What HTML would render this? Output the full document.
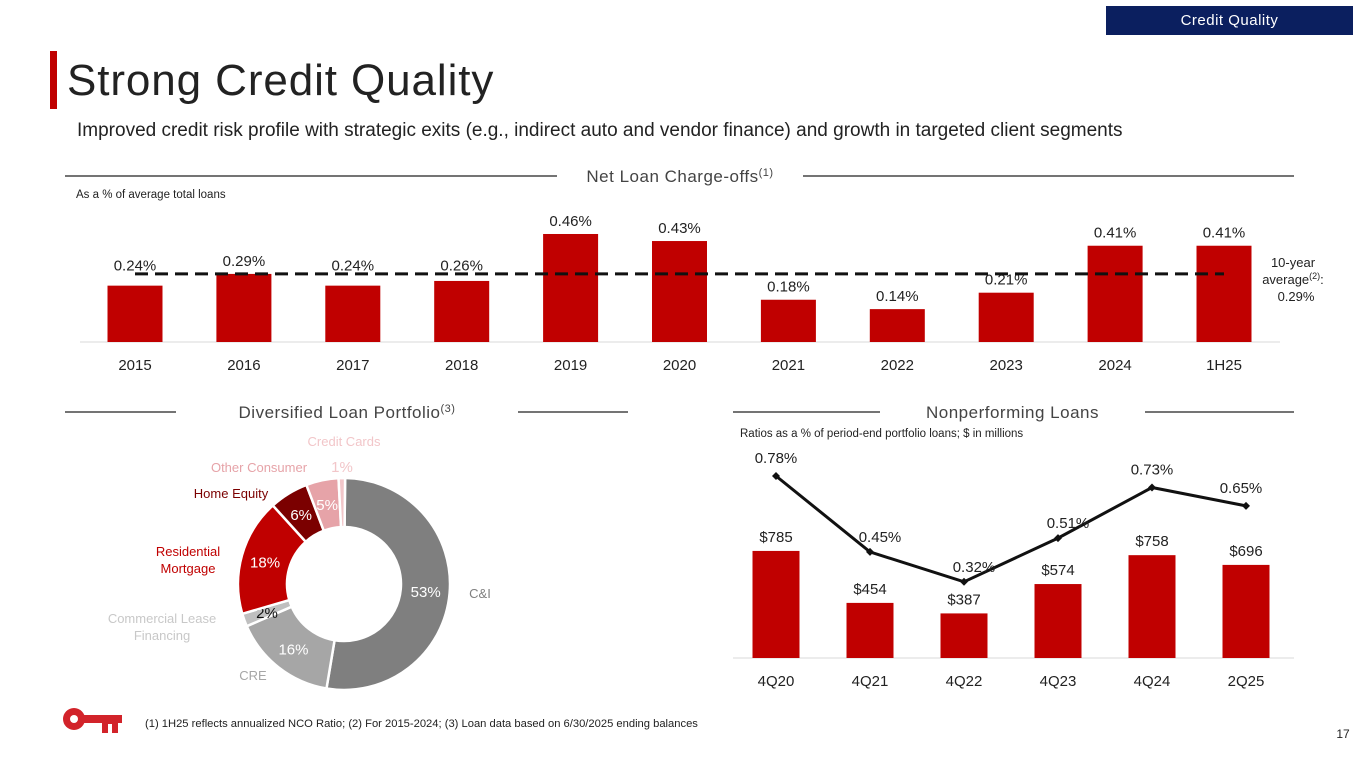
<!DOCTYPE html>
<html><head><meta charset="utf-8">
<style>
body{margin:0;width:1365px;height:768px;background:#fff;overflow:hidden;font-family:"Liberation Sans",sans-serif;position:relative}
.abs{position:absolute}
</style></head><body>
<div class="abs" style="left:1106px;top:6px;width:247px;height:29px;background:#0b1f5f;color:#fff;font-size:15px;line-height:29px;text-align:center;letter-spacing:0.5px">Credit Quality</div>
<div class="abs" style="left:50px;top:51px;width:7px;height:58px;background:#c00000"></div>
<div class="abs" style="left:67px;top:56px;font-size:44px;color:#222;letter-spacing:0.9px">Strong Credit Quality</div>
<div class="abs" style="left:77px;top:120px;font-size:19px;color:#222">Improved credit risk profile with strategic exits (e.g., indirect auto and vendor finance) and growth in targeted client segments</div>
<svg id="chart" class="abs" style="left:0;top:0" width="1365" height="768"></svg>
<script>
const ncoCats=["2015","2016","2017","2018","2019","2020","2021","2022","2023","2024","1H25"];
const ncoVals=[0.24,0.29,0.24,0.26,0.46,0.43,0.18,0.14,0.21,0.41,0.41];
const ncoLabels=["0.24%","0.29%","0.24%","0.26%","0.46%","0.43%","0.18%","0.14%","0.21%","0.41%","0.41%"];
const ncoAvg=0.29;
const npCats=["4Q20","4Q21","4Q22","4Q23","4Q24","2Q25"];
const npVals=[785,454,387,574,758,696];
const npRatios=[0.78,0.45,0.32,0.51,0.73,0.65];
const pieNames=["C&I","CRE","Commercial Lease Financing","Residential Mortgage","Home Equity","Other Consumer","Credit Cards"];
const pieVals=[53,16,2,18,6,5,1];

const svg=document.getElementById('chart');
const NS="http://www.w3.org/2000/svg";
function mk(tag,attrs,name,text){const e=document.createElementNS(NS,tag);for(const k in attrs)e.setAttribute(k,attrs[k]);


if(text!==undefined)e.textContent=text;svg.appendChild(e);return e;}
function txt(x,y,s,size,fill,name,anchor){return mk('text',{x:x,y:y,'font-size':size,fill:fill,'text-anchor':anchor||'middle','font-family':'Liberation Sans, sans-serif'},name,s);}

function header(x1,x2,gx1,gx2,y,label,sup,name){
 mk('line',{x1:x1,y1:y,x2:gx1,y2:y,stroke:'#222','stroke-width':1.3},name+'-rule-left');
 mk('line',{x1:gx2,y1:y,x2:x2,y2:y,stroke:'#222','stroke-width':1.3},name+'-rule-right');
 const t=txt((gx1+gx2)/2,y+6,label,17,'#444',name,'middle');t.setAttribute('letter-spacing','0.5');
 if(sup){const ts=document.createElementNS(NS,'tspan');ts.setAttribute('font-size','11');ts.setAttribute('dy','-6');ts.textContent=sup;t.appendChild(ts);}
}
header(65,1294,557,803,176,'Net Loan Charge-offs','(1)','nco-header');
header(65,628,176,518,412,'Diversified Loan Portfolio','(3)','loan-portfolio-header');
header(733,1294,880,1145,412,'Nonperforming Loans',null,'npl-header');
txt(76,198,'As a % of average total loans',11.5,'#222','nco-subtitle','start');
txt(740,437,'Ratios as a % of period-end portfolio loans; $ in millions',11.5,'#222','npl-subtitle','start');

const nB=342, nScale=234.8, nX0=135, nStep=108.9, nW=55;
const ny=v=>nB-v*nScale, nx=i=>nX0+i*nStep;
mk('line',{x1:80,y1:nB,x2:1280,y2:nB,stroke:'#d9d9d9','stroke-width':1},'nco-baseline');
ncoVals.forEach((v,i)=>{
 mk('rect',{x:nx(i)-nW/2,y:ny(v),width:nW,height:nB-ny(v),fill:'#c00000'},'nco-bar-'+ncoCats[i]);
 txt(nx(i),nB+28,ncoCats[i],15,'#222','nco-x-label');
 const ly = (v>=0.22) ? ny(Math.max(v,ncoAvg-0.02))-8 : ny(v)-8;
 txt(nx(i),ly,ncoLabels[i],15,'#222','nco-value-label');
});
mk('line',{x1:nx(0),y1:ny(ncoAvg),x2:nx(10),y2:ny(ncoAvg),stroke:'#111','stroke-width':3,'stroke-dasharray':'13,7'},'nco-average-line');
txt(1293,267,'10-year',13,'#222','avg-label-1');
const al=txt(1293,284,'average',13,'#222','avg-label-2');
{const ts=document.createElementNS(NS,'tspan');ts.setAttribute('font-size','9');ts.setAttribute('dy','-5');ts.textContent='(2)';al.appendChild(ts);
 const t2=document.createElementNS(NS,'tspan');t2.setAttribute('dy','5');t2.textContent=':';al.appendChild(t2);}
txt(1296,301,'0.29%',13,'#222','avg-label-3');

const pB=658, pMin=103, pScale=0.157, pX0=776, pStep=94, pW=47;
const px=i=>pX0+i*pStep, py=v=>pB-(v-pMin)*pScale;
const ry=r=>476+(0.78-r)*230;
mk('line',{x1:733,y1:pB,x2:1294,y2:pB,stroke:'#d9d9d9','stroke-width':1},'npl-baseline');
npVals.forEach((v,i)=>{
 mk('rect',{x:px(i)-pW/2,y:py(v),width:pW,height:pB-py(v),fill:'#c00000'},'npl-bar-'+npCats[i]);
 txt(px(i),py(v)-9,'$'+v,15,'#222','npl-value-label');
 txt(px(i),pB+28,npCats[i],15,'#222','npl-x-label');
});
mk('polyline',{points:npRatios.map((r,i)=>px(i)+','+ry(r)).join(' '),fill:'none',stroke:'#111','stroke-width':3},'npl-ratio-line');
npRatios.forEach((r,i)=>{
 mk('path',{d:`M${px(i)},${ry(r)-4}l4,4l-4,4l-4,-4z`,fill:'#111'},'npl-ratio-marker');
 const up=(i===0||i===4||i===5);
 txt(px(i)+(i===0?0:(i===5?-5:(i===4?0:10))),up?ry(r)-5-(i===0?0:0)-8:ry(r)-10,r.toFixed(2)+'%',15,'#222','npl-ratio-label');
});

const cx=344,cy=584,R=106,r0=57;
const total=pieVals.reduce((a,b)=>a+b,0);
const cols=['#7f7f7f','#a6a6a6','#bfbfbf','#c00000','#7b0000','#e6a3a8','#f2c6c9'];
const pctCol=['#fff','#fff','#111','#fff','#fff','#fff','#f2c6c9'];
let a=0.6/360*2*Math.PI;
pieVals.forEach((v,i)=>{
 const a1=a, a2=a+v/total*2*Math.PI;
 const p=(ang,rr)=>[cx+rr*Math.sin(ang),cy-rr*Math.cos(ang)];
 const [x1,y1]=p(a1,R),[x2,y2]=p(a2,R),[x3,y3]=p(a2,r0),[x4,y4]=p(a1,r0);
 const lg=(a2-a1)>Math.PI?1:0;
 mk('path',{d:`M${x1},${y1}A${R},${R} 0 ${lg} 1 ${x2},${y2}L${x3},${y3}A${r0},${r0} 0 ${lg} 0 ${x4},${y4}Z`,fill:cols[i],stroke:'#fff','stroke-width':2.5},'donut-slice-'+i);
 const m=(a1+a2)/2;
 let [lx,ly]=p(m,82);
 if(i===6){lx=cx-2;ly=466;}
 if(i===2){lx=267;ly=612;}
 txt(lx,ly+6,v+'%',15,pctCol[i],'donut-pct-label');
 a=a2;
});
txt(480,598,'C&I',13,'#808080','label-ci');
txt(253,680,'CRE',13,'#a6a6a6','label-cre');
txt(162,623,'Commercial Lease',13,'#c8c8c8','label-clf-1');
txt(162,640,'Financing',13,'#c8c8c8','label-clf-2');
txt(188,556,'Residential',13,'#c00000','label-resi-1');
txt(188,573,'Mortgage',13,'#c00000','label-resi-2');
txt(231,498,'Home Equity',13,'#7b0000','label-he');
txt(259,472,'Other Consumer',13,'#e6a3a8','label-other');
txt(344,446,'Credit Cards',13,'#f2c6c9','label-cc');

mk('text',{x:145,y:727,'font-size':11.2,fill:'#222','font-family':'Liberation Sans, sans-serif'},'footnote','(1) 1H25 reflects annualized NCO Ratio; (2) For 2015-2024; (3) Loan data based on 6/30/2025 ending balances');
txt(1343,738,'17',12,'#222','page-number');
mk('circle',{cx:74,cy:719,r:11,fill:'#d2232a'},'logo-key-bow');
mk('rect',{x:80,y:715,width:42,height:8,fill:'#d2232a'},'logo-key-shaft');
mk('rect',{x:102,y:720,width:16,height:13,fill:'#d2232a'},'logo-key-bit');
mk('rect',{x:108,y:724,width:4,height:9,fill:'#fff'},'logo-key-notch');
mk('circle',{cx:74,cy:719,r:4,fill:'#fff'},'logo-key-hole');
</script>
</body></html>
